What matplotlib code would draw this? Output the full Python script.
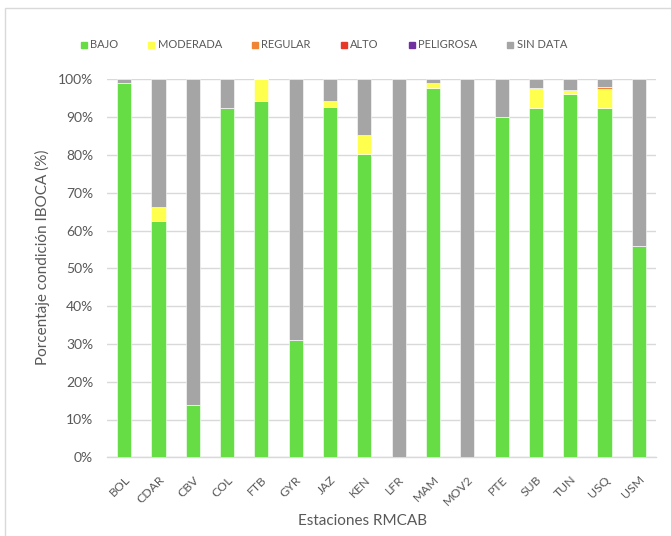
import matplotlib
matplotlib.use("Agg")
import matplotlib.pyplot as plt
import numpy as np
from matplotlib.lines import Line2D
from matplotlib.patches import Rectangle
from matplotlib.ticker import PercentFormatter

plt.rcParams['font.family'] = ['Lato', 'DejaVu Sans']

estaciones = ["BOL", "CDAR", "CBV", "COL", "FTB", "GYR", "JAZ", "KEN",
              "LFR", "MAM", "MOV2", "PTE", "SUB", "TUN", "USQ", "USM"]

bajo      = [99.1, 62.6, 13.8, 92.3, 94.2, 31.1, 92.7, 80.2, 0.0, 97.6, 0.0, 90.1, 92.3, 96.0, 92.3, 56.0]
moderada  = [0.0, 3.5, 0.0, 0.0, 5.8, 0.0, 1.6, 5.1, 0.0, 1.4, 0.0, 0.0, 5.5, 1.2, 5.1, 0.0]
regular   = [0.0, 0.0, 0.0, 0.0, 0.0, 0.0, 0.0, 0.0, 0.0, 0.0, 0.0, 0.0, 0.0, 0.0, 0.5, 0.0]
alto      = [0.0] * 16
peligrosa = [0.0] * 16
sin_data  = [0.9, 33.9, 86.2, 7.7, 0.0, 68.9, 5.7, 14.7, 100.0, 1.0, 100.0, 9.9, 2.2, 2.8, 2.1, 44.0]

series = [
    ("BAJO", bajo, "#66DD44"),
    ("MODERADA", moderada, "#FFFF4D"),
    ("REGULAR", regular, "#F08536"),
    ("ALTO", alto, "#E8382A"),
    ("PELIGROSA", peligrosa, "#7030A0"),
    ("SIN DATA", sin_data, "#A5A5A5"),
]

txt = "#595959"

fig = plt.figure(figsize=(6.71, 5.36), dpi=100)
ax = fig.add_axes([107 / 671, 1 - 457.3 / 536, (656 - 107) / 671, 378 / 536])

x = np.arange(len(estaciones))
bottom = np.zeros(len(estaciones))
handles = []
for name, vals, col in series:
    v = np.array(vals, dtype=float)
    ax.bar(x, v, width=0.41, bottom=bottom, color=col,
           edgecolor="#FFFFFF", linewidth=0.4, zorder=3)
    bottom += v
    handles.append(Line2D([], [], marker="s", linestyle="none",
                          markersize=4.5, markerfacecolor=col,
                          markeredgecolor=col, label=name))

ax.set_xlim(-0.5, len(estaciones) - 0.5)
ax.set_ylim(0, 100)
ax.set_yticks(np.arange(0, 101, 10))
ax.yaxis.set_major_formatter(PercentFormatter(decimals=0))
ax.grid(axis="y", color="#D9D9D9", linewidth=1.0, zorder=0)
for s in ["top", "right", "left"]:
    ax.spines[s].set_visible(False)
ax.spines["bottom"].set_color("#D9D9D9")
ax.spines["bottom"].set_linewidth(1.0)

ax.tick_params(axis="y", length=0, pad=10, labelsize=10, labelcolor=txt)
ax.tick_params(axis="x", length=0, pad=12, labelsize=8.8, labelcolor=txt)
ax.set_xticks(x)
ax.set_xticklabels(estaciones, rotation=45, ha="right", rotation_mode="anchor")

fig.text(362 / 671, 1 - 521 / 536, "Estaciones RMCAB", ha="center", va="center",
         fontsize=11, color=txt)
fig.text(42.5 / 671, 1 - 257 / 536, "Porcentaje condición IBOCA (%)", ha="center",
         va="center", rotation=90, fontsize=11, color=txt)

fig.legend(handles=handles, loc="center", bbox_to_anchor=(324 / 671, 1 - 45 / 536),
           ncol=6, frameon=False, fontsize=8, labelcolor=txt,
           handlelength=0.5, handletextpad=0.3, columnspacing=2.75,
           borderaxespad=0, borderpad=0)

# outer chart frame
fig.patches.append(Rectangle((5 / 671, -0.1), 1.0, 1 - 8 / 536 + 0.1,
                             transform=fig.transFigure, fill=False,
                             edgecolor="#D9D9D9", linewidth=1.0))

fig.savefig("out.png", dpi=100)
